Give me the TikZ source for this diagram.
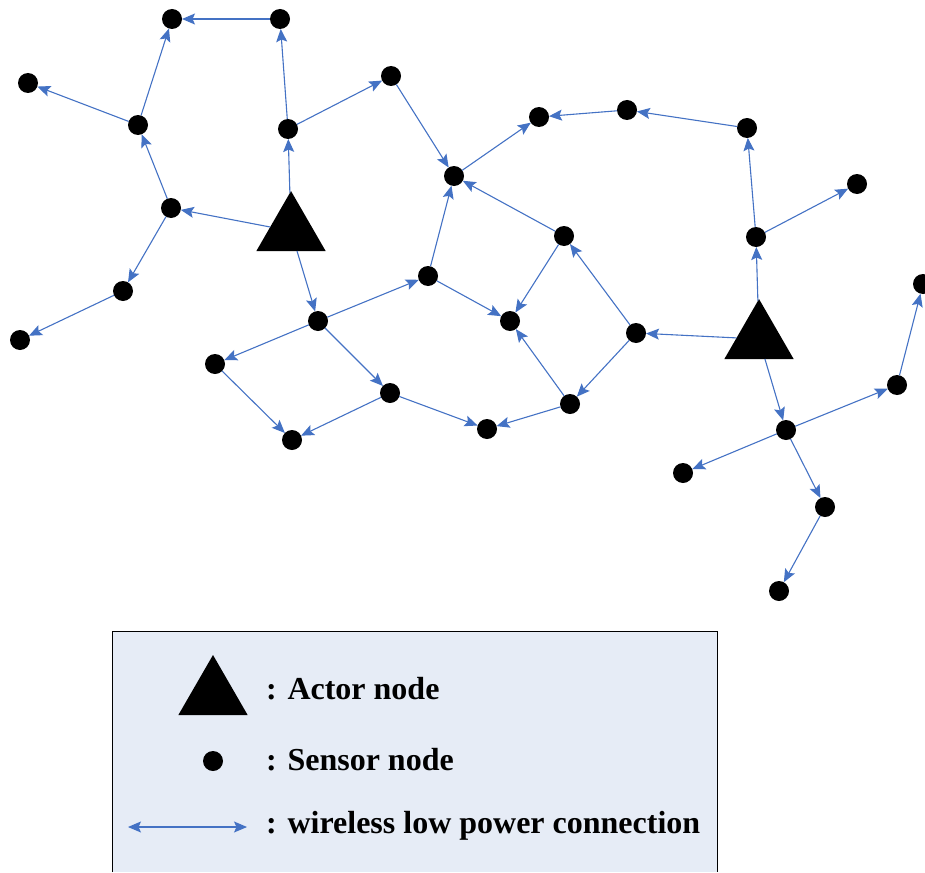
\documentclass[tikz,border=0pt]{standalone}
\usepackage{fontspec}
\setmainfont{Liberation Serif}
\usetikzlibrary{shapes.geometric,arrows.meta}
\definecolor{linkblue}{HTML}{4472C4}
\definecolor{legendfill}{RGB}{230,236,246}
\tikzset{
  sensor/.style={circle,fill=black,minimum size=20pt,inner sep=0pt,outer sep=0pt},
  actor/.style={regular polygon,regular polygon sides=3,fill=black,minimum size=80pt,inner sep=0pt,outer sep=0pt},
  tipb/.tip={Stealth[length=13pt,width=11pt,inset=2.5pt,fill=linkblue]},
  link/.style={draw=linkblue,line width=1.1pt,-tipb},
  legendtext/.style={anchor=base west,inner sep=0pt,font=\fontsize{32}{38}\selectfont\bfseries}
}
\begin{document}
\begin{tikzpicture}[x=1pt,y=-1pt]
\useasboundingbox (0,0) rectangle (925,872);
% nodes
\node[actor] (A1) at (291,231) {};
\node[actor] (A2) at (759,339) {};
\node[sensor] (n1) at (172,19) {};
\node[sensor] (n2) at (280,19) {};
\node[sensor] (n3) at (28,83) {};
\node[sensor] (n4) at (138,125) {};
\node[sensor] (n5) at (288,129) {};
\node[sensor] (n6) at (391,76) {};
\node[sensor] (n7) at (171,208) {};
\node[sensor] (n8) at (123,291) {};
\node[sensor] (n9) at (20,340) {};
\node[sensor] (n10) at (318,321) {};
\node[sensor] (n11) at (428,276) {};
\node[sensor] (n12) at (454,176) {};
\node[sensor] (n13) at (539,117) {};
\node[sensor] (n14) at (627,110) {};
\node[sensor] (n15) at (747,128) {};
\node[sensor] (n16) at (857,184) {};
\node[sensor] (n17) at (756,237) {};
\node[sensor] (n18) at (564,236) {};
\node[sensor] (n19) at (510,321) {};
\node[sensor] (n20) at (636,333) {};
\node[sensor] (n21) at (215,364) {};
\node[sensor] (n22) at (292,440) {};
\node[sensor] (n23) at (390,393) {};
\node[sensor] (n24) at (487,429) {};
\node[sensor] (n25) at (570,404) {};
\node[sensor] (n26) at (923,284) {};
\node[sensor] (n27) at (897,385) {};
\node[sensor] (n28) at (786,430) {};
\node[sensor] (n29) at (683,473) {};
\node[sensor] (n30) at (825,507) {};
\node[sensor] (n31) at (779,591) {};
% links
\foreach \a/\b in {n2/n1, n4/n1, n4/n3, n7/n4, A1/n7, n7/n8, n8/n9, A1/n5, n5/n2, n5/n6,
  n6/n12, A1/n10, n10/n11, n11/n12, n12/n13, n14/n13, n15/n14, n17/n15, A2/n17, n17/n16,
  n18/n12, n18/n19, n11/n19, n20/n18, A2/n20, n20/n25, n25/n19, n25/n24, n23/n24, n10/n23,
  n10/n21, n21/n22, n23/n22, A2/n28, n28/n27, n27/n26, n28/n29, n28/n30, n30/n31}
  \draw[link] (\a) -- (\b);
% legend
\fill[legendfill] (112,631) rectangle (717,872);
\draw[line width=1pt] (112,872) -- (112,631) -- (717,631) -- (717,872);
\node[actor] (LA) at (213,695) {};
\node[sensor] (LS) at (213,761) {};
\coordinate (LL) at (128,827);
\coordinate (LR) at (247,827);
\draw[link,tipb-tipb] (LL) -- (LR);
\node[legendtext] (T1) at (266,699) {: Actor node};
\node[legendtext] (T2) at (266,770) {: Sensor node};
\node[legendtext] (T3) at (266,833) {: wireless low power connection};
\end{tikzpicture}
\end{document}
